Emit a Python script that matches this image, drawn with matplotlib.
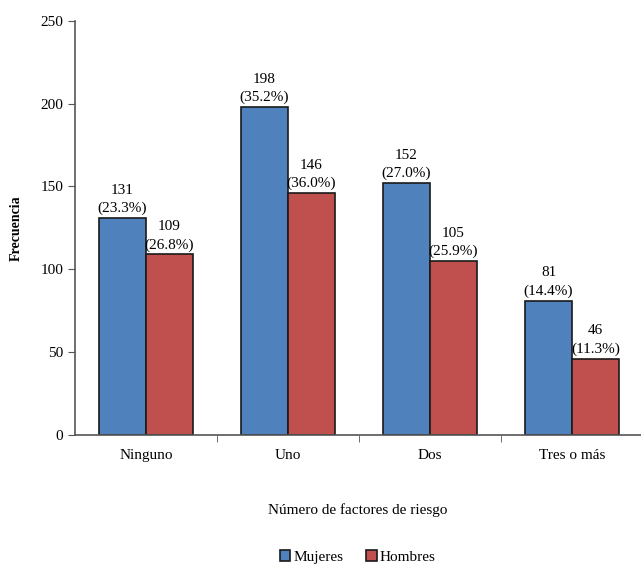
import numpy as np
import matplotlib
matplotlib.use("Agg")
import matplotlib.pyplot as plt

categories = ["Ninguno", "Uno", "Dos", "Tres o más"]
mujeres = [131, 198, 152, 81]
hombres = [109, 146, 105, 46]
mujeres_pct = ["23.3", "35.2", "27.0", "14.4"]
hombres_pct = ["26.8", "36.0", "25.9", "11.3"]

plt.rcParams['font.family'] = ['Liberation Serif', 'DejaVu Serif']

fig = plt.figure(figsize=(6.41, 5.64), dpi=100)
ax = fig.add_axes([0.117, 0.229, 0.886, 0.734])

x = np.arange(len(categories))
w = 0.33
b1 = ax.bar(x - w/2, mujeres, w, color='#4F81BD', edgecolor='#1a1a1a', linewidth=1.2, label='Mujeres')
b2 = ax.bar(x + w/2, hombres, w, color='#C0504D', edgecolor='#1a1a1a', linewidth=1.2, label='Hombres')

for bars, vals, pcts in [(b1, mujeres, mujeres_pct), (b2, hombres, hombres_pct)]:
    for rect, v, p in zip(bars, vals, pcts):
        ax.annotate(f"{v}\n({p}%)", (rect.get_x() + rect.get_width()/2, v),
                    xytext=(0, 2), textcoords='offset points',
                    ha='center', va='bottom', fontsize=11, linespacing=1.5)

ax.set_xlim(-0.5, 3.5)
ax.set_ylim(0, 250)
ax.set_yticks([0, 50, 100, 150, 200, 250])
ax.set_xticks(x)
ax.set_xticklabels(categories, fontsize=11)
ax.set_xticks([0.5, 1.5, 2.5], minor=True)
ax.tick_params(axis='x', which='major', length=0, pad=10)
ax.tick_params(axis='x', which='minor', length=5, direction='out', color='#555555')
ax.tick_params(axis='y', length=5, direction='out', labelsize=11, color='#555555')
ax.spines['top'].set_visible(False)
ax.spines['right'].set_visible(False)
for s in ['left', 'bottom']:
    ax.spines[s].set_color('#555555')
    ax.spines[s].set_linewidth(1.2)

ax.set_ylabel('Frecuencia', fontsize=10, fontweight='bold')
ax.yaxis.set_label_coords(-0.092, 0.5)
fig.text(0.558, 0.095, 'Número de factores de riesgo', ha='center', va='center', fontsize=11)
fig.legend(handles=[b1, b2], loc='center', bbox_to_anchor=(0.558, 0.013), ncol=2,
           frameon=False, fontsize=11, handlelength=0.7, handleheight=0.7,
           handletextpad=0.2, columnspacing=1.5)

fig.savefig('out.png', dpi=100)
